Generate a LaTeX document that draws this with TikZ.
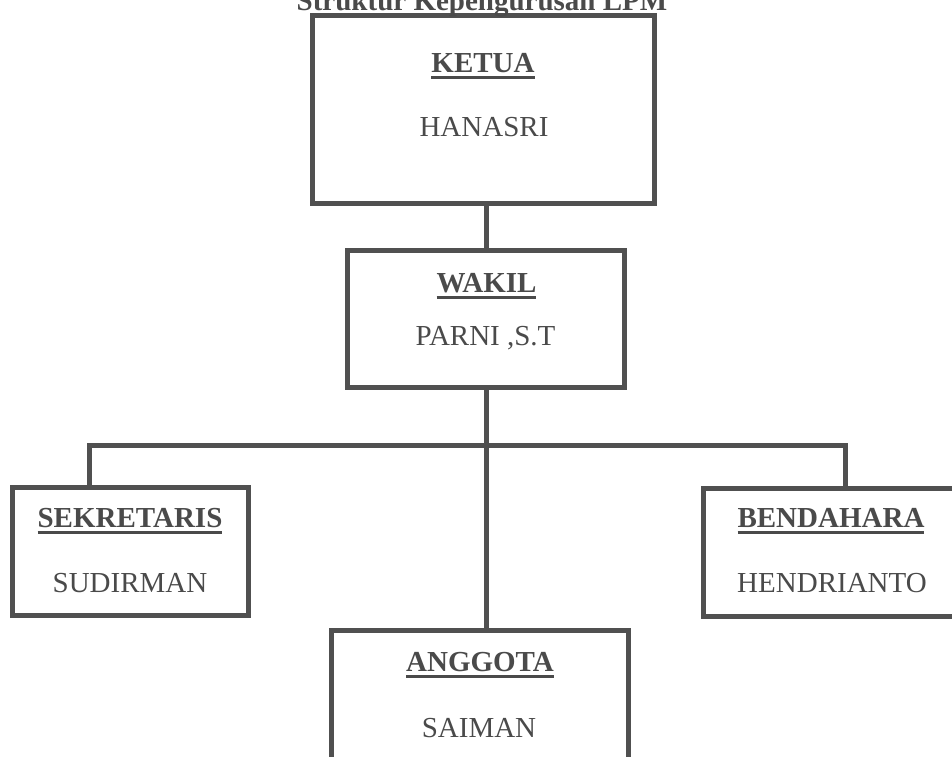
\documentclass[tikz,border=0pt]{standalone}
\usepackage{fontspec}
\setmainfont{Liberation Serif}
\definecolor{linegray}{HTML}{505050}
\definecolor{textgray}{HTML}{4A4A4A}
\newcommand{\myul}[1]{\setbox0\hbox{#1}\rlap{\rule[-6.8pt]{\wd0}{2.8pt}}\box0}
\begin{document}
\begin{tikzpicture}[x=1pt,y=-1pt,
  box/.style={draw=linegray,line width=5pt,rectangle,inner sep=0pt,fill=white},
  conn/.style={draw=linegray,line width=5pt},
  lbl/.style={anchor=base,inner sep=0pt,text=textgray,font=\fontsize{29}{34}\selectfont}]
\useasboundingbox[fill=white] (0,0) rectangle (952,756);
% boxes
\node[box,minimum width=342pt,minimum height=188pt] (ketua) at (483,109) {};
\node[box,minimum width=277pt,minimum height=137pt] (wakil) at (486,319) {};
\node[box,minimum width=236pt,minimum height=128pt] (sek) at (130.5,551.5) {};
\node[box,minimum width=257pt,minimum height=128pt] (ben) at (831.5,552) {};
\node[box,minimum width=297pt,minimum height=160pt] (ang) at (480,710) {};
% connectors
\coordinate (busL) at (89,445);
\coordinate (busR) at (845,445);
\draw[conn] (wakil.north) -- (wakil.north |- ketua.south);
\draw[conn] (wakil.south) -- (wakil.south |- ang.north);
\draw[conn] (busL |- sek.north) -- (busL) -- (busR) -- (busR |- ben.north);
% title
\node[lbl,font=\fontsize{29}{34}\selectfont\bfseries] (title) at (482,10) {Struktur Kepengurusan LPM};
% texts
\node[lbl,font=\fontsize{29}{34}\selectfont\bfseries] (t1) at (483,72) {\myul{KETUA}};
\node[lbl] (n1) at (484,136) {HANASRI};
\node[lbl,font=\fontsize{29}{34}\selectfont\bfseries] (t2) at (486.5,292) {\myul{WAKIL}};
\node[lbl] (n2) at (485.5,345) {PARNI ,S.T};
\node[lbl,font=\fontsize{29}{34}\selectfont\bfseries] (t3) at (130,527) {\myul{SEKRETARIS}};
\node[lbl] (n3) at (130,592) {SUDIRMAN};
\node[lbl,font=\fontsize{29}{34}\selectfont\bfseries] (t4) at (831,527) {\myul{BENDAHARA}};
\node[lbl] (n4) at (832,592) {HENDRIANTO};
\node[lbl,font=\fontsize{29}{34}\selectfont\bfseries] (t5) at (480,671) {\myul{ANGGOTA}};
\node[lbl] (n5) at (479,737) {SAIMAN};
\end{tikzpicture}
\end{document}
